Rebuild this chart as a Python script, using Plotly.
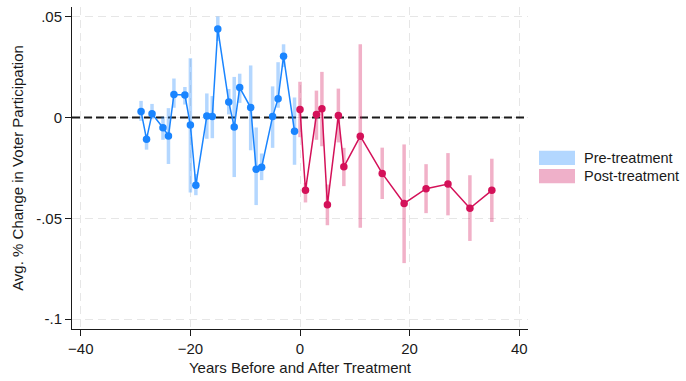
import plotly.graph_objects as go

# Event-study estimates: years relative to treatment, point estimate, 95% CI
pre_years = [-29, -28, -27, -25, -24, -23, -21, -20, -19, -17, -16, -15,
             -13, -12, -11, -9, -8, -7, -5, -4, -3, -1]
pre_est = [0.0031, -0.0107, 0.0019, -0.0050, -0.0091, 0.0115, 0.0112, -0.0037,
           -0.0335, 0.0008, 0.0005, 0.0440, 0.0078, -0.0047, 0.0149, 0.0050,
           -0.0256, -0.0246, 0.0005, 0.0094, 0.0304, -0.0067]
pre_lo = [-0.0016, -0.0159, -0.0008, -0.0110, -0.0230, 0.0049, 0.0065, -0.0372,
          -0.0385, -0.0105, -0.0102, 0.0380, 0.0016, -0.0295, 0.0073, -0.0162,
          -0.0434, -0.0310, -0.0150, 0.0049, 0.0251, -0.0234]
pre_hi = [0.0083, -0.0081, 0.0068, 0.0005, 0.0047, 0.0194, 0.0152, 0.0295,
          -0.0280, 0.0120, 0.0107, 0.0502, 0.0142, 0.0202, 0.0218, 0.0259,
          -0.0049, -0.0178, 0.0155, 0.0275, 0.0364, 0.0100]

post_years = [0, 1, 3, 4, 5, 7, 8, 11, 15, 19, 23, 27, 31, 35]
post_est = [0.0040, -0.0361, 0.0015, 0.0044, -0.0432, 0.0010, -0.0244, -0.0092,
            -0.0277, -0.0426, -0.0353, -0.0330, -0.0450, -0.0361]
post_lo = [-0.0097, -0.0421, -0.0110, -0.0142, -0.0534, -0.0123, -0.0340, -0.0547,
           -0.0404, -0.0722, -0.0474, -0.0485, -0.0612, -0.0518]
post_hi = [0.0178, -0.0324, 0.0134, 0.0227, -0.0332, 0.0144, -0.0150, 0.0364,
           -0.0149, -0.0133, -0.0231, -0.0176, -0.0286, -0.0204]

x_ticks = [-40, -20, 0, 20, 40]
y_ticks = [0.05, 0, -0.05, -0.1]
y_tick_text = [".05", "0", "-.05", "-.1"]

X_RANGE = [-41.6, 41.6]
Y_RANGE = [-0.1049, 0.0549]

BLUE = "#1a85ff"
RED = "#d41159"
BLUE_CI = "rgba(26,133,255,0.33)"
RED_CI = "rgba(212,17,89,0.33)"
BLUE_KEY = "#b3d7ff"
RED_KEY = "#efb0c9"
INK = "#1a1a1a"
FONT = "Liberation Sans, Arial, sans-serif"

# plot-area geometry in pixels (used to place the legend keys)
PX_L, PX_R, PX_T, PX_B = 72, 528, 7, 336
PW, PH = PX_R - PX_L, PX_B - PX_T


def ci_segments(xs, lo, hi):
    sx, sy = [], []
    for x, a, b in zip(xs, lo, hi):
        sx += [x, x, None]
        sy += [a, b, None]
    return sx, sy


fig = go.Figure()

# dashed reference line at zero across the full axis range
fig.add_trace(go.Scatter(x=X_RANGE, y=[0, 0], mode="lines",
                         line=dict(color=INK, width=2, dash="8px,4px"),
                         hoverinfo="skip", showlegend=False))

for xs, lo, hi, col in [(pre_years, pre_lo, pre_hi, BLUE_CI),
                        (post_years, post_lo, post_hi, RED_CI)]:
    sx, sy = ci_segments(xs, lo, hi)
    fig.add_trace(go.Scatter(x=sx, y=sy, mode="lines",
                             line=dict(color=col, width=3.5),
                             hoverinfo="skip", showlegend=False))

for xs, ys, col in [(pre_years, pre_est, BLUE), (post_years, post_est, RED)]:
    fig.add_trace(go.Scatter(x=xs, y=ys, mode="lines+markers",
                             line=dict(color=col, width=1.5),
                             marker=dict(color=col, size=7.5),
                             showlegend=False))

# legend keys
for i, (label, col) in enumerate([("Pre-treatment", BLUE_KEY), ("Post-treatment", RED_KEY)]):
    y_top = 154 + i * 18.5
    fig.add_shape(type="rect", xref="paper", yref="paper",
                  x0=(539 - PX_L) / PW, x1=(575 - PX_L) / PW,
                  y0=(PX_B - (y_top + 14.5)) / PH, y1=(PX_B - y_top) / PH,
                  fillcolor=col, line=dict(width=0))
    fig.add_annotation(text=label, xref="paper", yref="paper",
                       x=(582 - PX_L) / PW, y=(PX_B - (y_top + 7.5)) / PH,
                       xanchor="left", yanchor="middle", showarrow=False,
                       font=dict(family=FONT, size=14.5, color=INK))

axis_style = dict(showgrid=True, gridcolor="#e6e6e6", gridwidth=1, griddash="8px,5px",
                  zeroline=False, showline=True, linecolor=INK, linewidth=1,
                  ticks="outside", ticklen=6, tickcolor=INK,
                  tickfont=dict(family=FONT, size=15, color=INK))

fig.update_xaxes(range=X_RANGE, tickvals=x_ticks,
                 title=dict(text="Years Before and After Treatment", standoff=6,
                            font=dict(family=FONT, size=15, color=INK)),
                 **axis_style)
fig.update_yaxes(range=Y_RANGE, tickvals=y_ticks, ticktext=y_tick_text,
                 title=dict(text="Avg. % Change in Voter Participation", standoff=8,
                            font=dict(family=FONT, size=15, color=INK)),
                 **axis_style)

fig.update_layout(width=686, height=381,
                  margin=dict(l=PX_L, r=686 - PX_R, t=PX_T, b=381 - PX_B),
                  plot_bgcolor="white", paper_bgcolor="white",
                  showlegend=False)

fig.write_html("out.html")
